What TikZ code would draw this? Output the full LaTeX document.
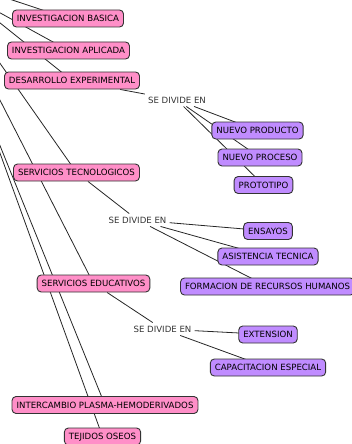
\documentclass[tikz,border=0pt]{standalone}
\usepackage{fontspec}
\setmainfont{DejaVu Sans}
\usepackage{xcolor}
\usepackage{tikz}
\usetikzlibrary{backgrounds}
\definecolor{rosa}{HTML}{FF8FC8}
\definecolor{lila}{HTML}{C08CFF}
\definecolor{rand}{HTML}{333333}
\tikzset{
  Konzept/.style={draw=rand, line width=0.9pt, rounded corners=4pt,
    inner xsep=4.5pt, inner ysep=0pt, minimum height=17pt,
    text height=6pt, text depth=0pt}, % Grundform der Kaesten
  RKonzept/.style={Konzept, fill=rosa},% rosa Kaesten
  LKonzept/.style={Konzept, fill=lila},% lila Kaesten
  Phrase/.style={inner sep=3pt, text=black!80}, % Verbindungswoerter
  Linie/.style={line width=0.8pt, draw=black!85}
}

\begin{document}
\begin{tikzpicture}[x=1pt, y=-1pt,
font=\fontsize{8.6}{9}\selectfont
]
\useasboundingbox (0,0) rectangle (352,444);
\clip (0,0) rectangle (352,444);

%Begriffe links
\node[RKonzept] (InvB) at (68,18.5) {INVESTIGACION BASICA};
\node[RKonzept] (InvA) at (68.5,50.5) {INVESTIGACION APLICADA};
\node[RKonzept] (DesE) at (72,80.5) {DESARROLLO EXPERIMENTAL};
\node[RKonzept] (SerT) at (76.5,172.5) {SERVICIOS TECNOLOGICOS};
\node[RKonzept] (SerE) at (93.5,283.5) {SERVICIOS EDUCATIVOS};
\node[RKonzept] (Plas) at (105,405) {INTERCAMBIO PLASMA-HEMODERIVADOS};
\node[RKonzept] (Tej) at (102.5,436.5) {TEJIDOS OSEOS};

%Begriffe rechts
\node[LKonzept] (NProd) at (257.5,130.5) {NUEVO PRODUCTO};
\node[LKonzept] (NProc) at (260,157.5) {NUEVO PROCESO};
\node[LKonzept] (Proto) at (263.5,185) {PROTOTIPO};
\node[LKonzept] (Ens) at (268,231) {ENSAYOS};
\node[LKonzept] (Asis) at (268,256.5) {ASISTENCIA TECNICA};
\node[LKonzept] (Form) at (267.5,286.5) {FORMACION DE RECURSOS HUMANOS};
\node[LKonzept] (Ext) at (268,334.5) {EXTENSION};
\node[LKonzept] (Capa) at (268,367.5) {CAPACITACION ESPECIAL};

%Verbindungswoerter
\node[Phrase] (Teil1) at (177,100) {SE DIVIDE EN};
\node[Phrase] (Teil2) at (137.5,220) {SE DIVIDE EN};
\node[Phrase] (Teil3) at (162.5,329) {SE DIVIDE EN};

%Anschluesse ausserhalb des Bildes
\coordinate (OA) at (-33,-15);
\coordinate (OB) at (-15,4.6);
\coordinate (OC) at (-15,10.9);
\coordinate (OD) at (-15,41.9);
\coordinate (OE) at (-15,70.8);
\coordinate (OF) at (-15,108.6);
\coordinate (OG) at (-15,111.7);

%Leitungen
\begin{scope}[on background layer]
\clip (0,0) rectangle (352,444);
\draw[Linie] (OA) -- (InvB.center);
\draw[Linie] (OB) -- (InvA.center);
\draw[Linie] (OC) -- (DesE.center);
\draw[Linie] (OD) -- (SerT.center);
\draw[Linie] (OE) -- (SerE.center);
\draw[Linie] (OF) -- (Plas.center);
\draw[Linie] (OG) -- (Tej.center);

\draw[Linie] (DesE) -- (Teil1);
\draw[Linie] (Teil1) -- (NProd.center);
\draw[Linie] (Teil1) -- (NProc.center);
\draw[Linie] (Teil1) -- (Proto.center);

\draw[Linie] (SerT) -- (Teil2);
\draw[Linie] (Teil2) -- (Ens.center);
\draw[Linie] (Teil2) -- (Asis.center);
\draw[Linie] (Teil2) -- (Form.center);

\draw[Linie] (SerE) -- (Teil3);
\draw[Linie] (Teil3) -- (Ext.center);
\draw[Linie] (Teil3) -- (Capa.center);
\end{scope}

\end{tikzpicture}
\end{document}
